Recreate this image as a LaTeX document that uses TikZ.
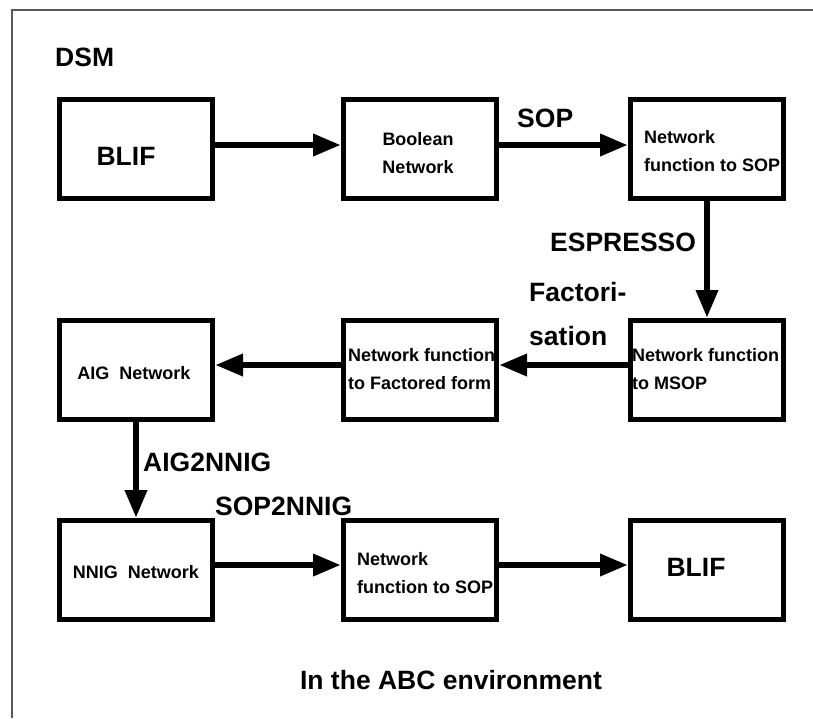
\documentclass[tikz,border=0pt]{standalone}
\usepackage{fontspec}
\setmainfont{Liberation Sans}
\usetikzlibrary{arrows.meta}
\begin{document}
\begin{tikzpicture}[x=1pt,y=-1pt,
  box/.style={draw, line width=5pt, minimum width=153pt, minimum height=99pt, inner sep=0pt},
  flow/.style={line width=6.5pt, -{Triangle[length=28pt,width=21pt]}},
  lbl/.style={inner sep=0pt, anchor=west, font=\fontsize{26.5}{44}\selectfont\bfseries, align=left},
  boxtxt/.style={inner sep=0pt, font=\fontsize{18}{28}\selectfont\bfseries, align=left},
  bigtxt/.style={inner sep=0pt, font=\fontsize{26.5}{32}\selectfont\bfseries},
  frame/.style={draw=black!65, line width=1.3pt}]
\useasboundingbox (0,0) rectangle (813,718);

% outer frame (left and top edges)
\coordinate (fbl) at (12,718);
\coordinate (ftl) at (12,10);
\coordinate (ftr) at (813,10);
\draw[frame] (fbl) -- (ftl) -- (ftr);

% heading
\node[lbl] (dsm) at (55,57) {DSM};

% first row
\node[box] (blifin) at (136,149) {};
\node[bigtxt] (blifin-t) at (126,156) {BLIF};
\node[box] (bool) at (420,149) {};
\node[boxtxt, align=center] (bool-t) at (418,153) {Boolean\\Network};
\node[box] (nfsop) at (707,149) {};
\node[boxtxt, anchor=west] (nfsop-t) at (644,151) {Network\\function to SOP};

% second row
\node[box] (aig) at (136,370) {};
\node[boxtxt] (aig-t) at (134,373) {AIG\ \ Network};
\node[box] (nffact) at (420,370) {};
\node[boxtxt, anchor=west] (nffact-t) at (348,369) {Network function\\to Factored form};
\node[box] (nfmsop) at (707,370) {};
\node[boxtxt, anchor=west] (nfmsop-t) at (632,369) {Network function\\to MSOP};

% third row
\node[box] (nnig) at (136,570) {};
\node[boxtxt] (nnig-t) at (136,572) {NNIG\ \ Network};
\node[box] (nfsop2) at (420,570) {};
\node[boxtxt, anchor=west] (nfsop2-t) at (357,573) {Network\\function to SOP};
\node[box] (blifout) at (707,570) {};
\node[bigtxt] (blifout-t) at (696,567) {BLIF};

% connectors
\draw[flow] ([yshift=4pt]blifin.east) -- ([yshift=4pt]bool.west);
\draw[flow] ([yshift=4pt]bool.east) -- ([yshift=4pt]nfsop.west);
\draw[flow] (nfsop.south) -- (nfmsop.north);
\draw[flow] ([yshift=5pt]nfmsop.west) -- ([yshift=5pt]nffact.east);
\draw[flow] ([yshift=5pt]nffact.west) -- ([yshift=5pt]aig.east);
\draw[flow] (aig.south) -- (nnig.north);
\draw[flow] ([yshift=5pt]nnig.east) -- ([yshift=5pt]nfsop2.west);
\draw[flow] ([yshift=5pt]nfsop2.east) -- ([yshift=5pt]blifout.west);

% connector labels
\node[lbl] (sop) at (517,118) {SOP};
\node[lbl] (espresso) at (550,242) {ESPRESSO};
\node[lbl] (factor) at (529,314) {Factori-\\sation};
\node[lbl] (aig2nnig) at (143,462) {AIG2NNIG};
\node[lbl] (sop2nnig) at (215,506) {SOP2NNIG};

% caption
\node[bigtxt] (caption) at (451,680) {In the ABC environment};
\end{tikzpicture}
\end{document}
